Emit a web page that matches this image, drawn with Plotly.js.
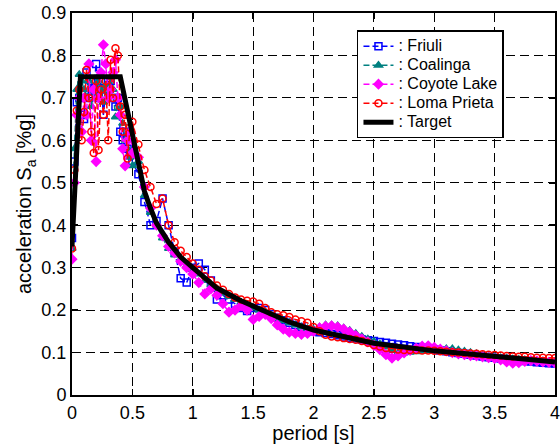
<!DOCTYPE html>
<html>
<head>
<meta charset="utf-8">
<script src="https://cdn.plot.ly/plotly-3.0.1.min.js"></script>
<style>html,body{margin:0;padding:0;background:#fff;}#chart{width:560px;height:444px;}</style>
</head>
<body>
<div id="chart"></div>
<script>
// Period grid (s) shared by the four record spectra
const period = [0,0.02,0.04,0.06,0.08,0.10,0.12,0.14,0.16,0.18,0.20,0.22,0.24,0.26,0.28,0.30,0.32,0.34,0.36,0.38,0.40,0.42,0.44,0.46,0.48,0.50,
  0.55,0.60,0.65,0.70,0.75,0.80,0.85,0.90,0.95,1.00,1.05,1.10,1.15,1.20,1.25,1.30,1.35,1.40,1.45,1.50,
  1.55,1.60,1.65,1.70,1.75,1.80,1.85,1.90,1.95,2.00,2.05,2.10,2.15,2.20,2.25,2.30,2.35,2.40,2.45,2.50,
  2.55,2.60,2.65,2.70,2.75,2.80,2.85,2.90,2.95,3.00,3.05,3.10,3.15,3.20,3.25,3.30,3.35,3.40,3.45,3.50,
  3.55,3.60,3.65,3.70,3.75,3.80,3.85,3.90,3.95,4.00];

const friuli = [0.37,0.55,0.69,0.70,0.66,0.65,0.76,0.70,0.74,0.72,0.78,0.70,0.74,0.66,0.72,0.73,0.74,0.70,0.68,0.70,0.62,0.60,0.62,0.58,0.57,0.55,
  0.52,0.455,0.40,0.41,0.463,0.40,0.338,0.275,0.265,0.30,0.31,0.295,0.27,0.225,0.235,0.225,0.215,0.205,0.198,0.205,
  0.205,0.20,0.19,0.182,0.176,0.17,0.165,0.16,0.155,0.15,0.148,0.146,0.144,0.141,0.138,0.135,0.133,0.131,0.129,0.127,
  0.125,0.123,0.121,0.119,0.117,0.115,0.113,0.111,0.109,0.107,0.105,0.103,0.101,0.099,0.097,0.095,0.093,0.091,0.089,0.088,
  0.086,0.085,0.083,0.082,0.080,0.079,0.077,0.076,0.075,0.074];

const coalinga = [0.345,0.58,0.72,0.755,0.74,0.72,0.70,0.74,0.68,0.72,0.70,0.74,0.72,0.69,0.73,0.71,0.75,0.72,0.655,0.70,0.68,0.64,0.60,0.58,0.56,0.54,
  0.55,0.47,0.43,0.40,0.37,0.345,0.33,0.32,0.305,0.295,0.285,0.27,0.26,0.25,0.24,0.232,0.225,0.218,0.212,0.205,
  0.20,0.195,0.188,0.18,0.175,0.17,0.165,0.16,0.156,0.155,0.16,0.165,0.165,0.163,0.158,0.152,0.145,0.138,0.132,0.126,
  0.12,0.113,0.105,0.099,0.099,0.101,0.102,0.103,0.104,0.106,0.108,0.109,0.109,0.106,0.103,0.10,0.097,0.094,0.092,0.09,
  0.088,0.087,0.085,0.084,0.083,0.082,0.081,0.08,0.079,0.078];

const coyoteLake = [0.32,0.50,0.66,0.70,0.62,0.70,0.66,0.78,0.60,0.72,0.55,0.70,0.76,0.825,0.78,0.70,0.72,0.76,0.79,0.70,0.66,0.58,0.54,0.60,0.62,0.57,
  0.56,0.49,0.44,0.40,0.375,0.35,0.335,0.315,0.30,0.285,0.265,0.238,0.25,0.235,0.215,0.195,0.20,0.21,0.20,0.178,
  0.185,0.19,0.18,0.165,0.155,0.148,0.145,0.143,0.145,0.15,0.158,0.162,0.163,0.16,0.155,0.148,0.14,0.132,0.125,0.117,
  0.107,0.095,0.087,0.092,0.099,0.105,0.11,0.115,0.116,0.112,0.108,0.104,0.10,0.097,0.095,0.093,0.092,0.09,0.088,0.086,
  0.083,0.078,0.075,0.076,0.079,0.081,0.08,0.078,0.077,0.076];

const lomaPrieta = [0.345,0.53,0.67,0.72,0.60,0.667,0.766,0.70,0.62,0.57,0.74,0.577,0.72,0.66,0.74,0.60,0.79,0.70,0.817,0.80,0.68,0.62,0.66,0.557,0.63,0.644,
  0.59,0.53,0.49,0.45,0.463,0.40,0.36,0.34,0.325,0.31,0.295,0.28,0.27,0.258,0.248,0.238,0.23,0.225,0.222,0.22,
  0.215,0.205,0.195,0.19,0.188,0.184,0.178,0.174,0.17,0.16,0.15,0.142,0.138,0.136,0.134,0.132,0.13,0.127,0.123,0.118,
  0.114,0.111,0.109,0.107,0.106,0.106,0.106,0.105,0.105,0.104,0.103,0.102,0.101,0.10,0.099,0.098,0.097,0.096,0.095,0.094,
  0.093,0.092,0.091,0.09,0.09,0.089,0.088,0.088,0.087,0.087];

// Target spectrum
const targetPeriod = [0,0.07,0.40,0.45,0.50,0.55,0.60,0.65,0.70,0.80,0.90,1.00,1.10,1.20,1.40,1.60,1.80,2.00,2.25,2.50,3.00,3.50,4.00];
const targetSa =     [0.35,0.75,0.75,0.68,0.615,0.545,0.48,0.44,0.405,0.36,0.325,0.30,0.275,0.252,0.222,0.197,0.172,0.153,0.137,0.122,0.104,0.09,0.078];

const names = [': Friuli', ': Coalinga', ': Coyote Lake', ': Loma Prieta', ': Target'];
const xTicks = [0,0.5,1,1.5,2,2.5,3,3.5,4];
const xTickText = ['0','0.5','1','1.5','2','2.5','3','3.5','4'];
const yTicks = [0,0.1,0.2,0.3,0.4,0.5,0.6,0.7,0.8,0.9];
const yTickText = ['0','0.1','0.2','0.3','0.4','0.5','0.6','0.7','0.8','0.9'];

const recStyle = [
  {color:'#0000ff', symbol:'square-open'},
  {color:'#008080', symbol:'triangle-up'},
  {color:'#ff00ff', symbol:'diamond'},
  {color:'#ff0000', symbol:'circle-open'}
];
const recs = [friuli, coalinga, coyoteLake, lomaPrieta];
const legendLabel = s => '<span style="font-size:16px">' + s + '</span>';

const traces = recs.map((y, i) => ({
  x: period, y: y, type: 'scatter', mode: 'lines+markers', name: legendLabel(names[i]),
  line: {color: recStyle[i].color, width: 1.5, dash: '6px,3px'},
  marker: {color: recStyle[i].color, symbol: recStyle[i].symbol, size: 7,
           line: {color: recStyle[i].color, width: 1.5}}
}));
traces.push({x: targetPeriod, y: targetSa, type: 'scatter', mode: 'lines', name: legendLabel(names[4]),
  line: {color: '#000', width: 5}});

const FONT = 'Liberation Sans, Arial, sans-serif';
const axisCommon = {
  showline: true, linecolor: '#000', linewidth: 2, mirror: 'ticks',
  ticks: 'inside', ticklen: 6, tickwidth: 1.5, tickcolor: '#000',
  showgrid: true, gridcolor: '#000', gridwidth: 1.2, griddash: '9px,5px',
  zeroline: false, ticklabeloverflow: 'allow',
  tickfont: {family: FONT, size: 18, color: '#000'}
};

const layout = {
  width: 560, height: 444,
  margin: {l: 72, r: 5, t: 13, b: 49},
  paper_bgcolor: '#fff', plot_bgcolor: '#fff',
  showlegend: true,
  xaxis: Object.assign({}, axisCommon, {
    range: [0, 4], tickvals: xTicks, ticktext: xTickText,
    title: {text: 'period [s]', standoff: 1, font: {family: FONT, size: 20, color: '#000'}}
  }),
  yaxis: Object.assign({}, axisCommon, {
    range: [0, 0.9], tickvals: yTicks, ticktext: yTickText,
    title: {text: 'acceleration S<sub>a</sub> [%g]', standoff: 4, font: {family: FONT, size: 20, color: '#000'}}
  }),
  legend: {
    x: 0.59, y: 0.955, xanchor: 'left', yanchor: 'top',
    bgcolor: '#fff', bordercolor: '#000', borderwidth: 1.5,
    font: {family: FONT, size: 12, color: '#000'},
    tracegroupgap: 0, itemwidth: 30
  }
};

Plotly.newPlot('chart', traces, layout, {staticPlot: true, displayModeBar: false});
</script>
</body>
</html>
